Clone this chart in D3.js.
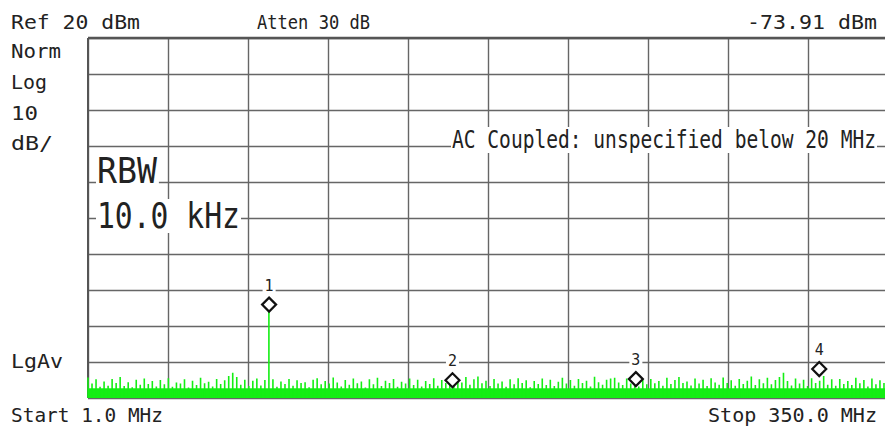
<!DOCTYPE html>
<html>
<head>
<meta charset="utf-8">
<script src="https://cdn.jsdelivr.net/npm/d3@7"></script>
<style>
  body { margin: 0; background: #fff; }
  text { font-family: "DejaVu Sans Mono", monospace; fill: #222; }
</style>
</head>
<body>
<div id="chart"></div>
<script>
// sweep settings
var startMHz = 1.0, stopMHz = 350.0;
var refDb = 20, bottomDb = -80;
var xDivs = 11, yTicks = [-80, -70, -60, -50, -40, -30, -20, -10, 0, 10, 20];

// trace (peak per bin, dBm), 200 bins across the sweep
var trace = [
  -74.3, -76.0, -74.8, -76.9, -75.4, -76.6, -74.7, -75.8, -74.2, -76.7,
  -75.6, -77.0, -74.9, -76.3, -74.6, -76.1, -75.3, -76.8, -75.0, -76.2,
  -74.5, -76.9, -75.7, -76.0, -74.8, -77.1, -75.2, -76.4, -74.4, -75.9,
  -75.5, -76.8, -74.7, -76.1, -75.1, -73.9, -73.0, -74.2, -76.3, -74.9,
  -76.7, -75.2, -74.6, -76.5, -75.0, -56.0, -74.8, -76.9, -75.4, -76.1,
  -74.7, -76.6, -75.1, -75.8, -75.6, -77.0, -74.9, -74.5, -76.2, -75.3,
  -76.0, -74.3, -75.7, -76.8, -75.0, -76.3, -74.6, -75.9, -75.4, -77.1,
  -74.8, -76.2, -74.4, -76.7, -75.2, -75.8, -74.7, -76.9, -75.5, -76.0,
  -74.6, -76.4, -74.9, -76.8, -75.3, -76.1, -74.5, -76.6, -75.0, -75.8,
  -74.3, -76.5, -75.1, -75.7, -74.2, -76.3, -74.8, -74.0, -75.9, -75.2,
  -76.7, -74.7, -76.0, -75.4, -76.9, -74.8, -76.2, -74.5, -75.8, -75.1,
  -77.0, -75.3, -76.1, -74.6, -76.4, -74.9, -76.7, -75.5, -74.4, -76.0,
  -75.0, -76.6, -74.7, -75.8, -75.2, -76.8, -74.1, -75.6, -76.3, -74.9,
  -74.6, -74.4, -75.7, -76.4, -74.6, -76.0, -75.1, -76.8, -74.8, -76.2,
  -74.7, -75.9, -75.3, -76.6, -74.4, -76.1, -75.0, -74.2, -75.8, -75.4,
  -76.5, -74.6, -76.0, -74.9, -76.7, -74.5, -75.7, -76.3, -74.3, -75.8,
  -75.1, -76.6, -74.7, -76.1, -75.2, -74.0, -76.4, -74.8, -75.9, -74.4,
  -76.2, -75.0, -74.2, -73.0, -75.3, -76.5, -74.6, -76.0, -74.9, -76.7,
  -74.5, -75.8, -75.2, -73.9, -76.3, -74.8, -76.6, -74.7, -76.1, -75.3,
  -76.4, -74.4, -75.9, -75.0, -76.8, -74.6, -76.2, -75.1, -75.8, -74.7
];
var floorDb = -77.3;

// markers
var markerIds = ["1", "2", "3", "4"];
var markerMHz = [80, 160, 240, 320];
var markerDb = [-56.0, -77.0, -76.7, -73.91];

var width = 885, height = 432;
var plot = {left: 88, top: 38, right: 888, bottom: 398};

var svg = d3.select("#chart")
    .append("svg")
    .attr("width", width)
    .attr("height", height);

var x = d3.scaleLinear()
    .domain([startMHz, stopMHz])
    .range([plot.left, plot.right]);
var y = d3.scaleLinear()
    .domain([bottomDb, refDb])
    .range([plot.bottom, plot.top]);
var xi = d3.scaleLinear()
    .domain([0, trace.length - 1])
    .range([plot.left, plot.right]);

// grid
var step = (stopMHz - startMHz) / (xDivs - 1);
var xTicks = d3.range(xDivs).map(function(i) { return startMHz + i * step; });

var gx = svg.append("g")
    .attr("transform", "translate(0," + plot.bottom + ")")
    .call(d3.axisBottom(x).tickValues(xTicks).tickSize(-(plot.bottom - plot.top)).tickFormat(""));
var gy = svg.append("g")
    .attr("transform", "translate(" + plot.left + ",0)")
    .call(d3.axisLeft(y).tickValues(yTicks).tickSize(-(plot.right - plot.left)).tickFormat(""));
[gx, gy].forEach(function(g) {
    g.select(".domain").remove();
    g.selectAll(".tick line").attr("stroke", "#666").attr("stroke-width", 1.4);
});
svg.append("line")
    .attr("x1", plot.left).attr("x2", plot.right)
    .attr("y1", plot.top).attr("y2", plot.top)
    .attr("stroke", "#555").attr("stroke-width", 2.6);
svg.append("line")
    .attr("x1", plot.left).attr("x2", plot.left)
    .attr("y1", plot.top).attr("y2", plot.bottom)
    .attr("stroke", "#555").attr("stroke-width", 2);

// text squeezed to the width it has on the screen
function label(str, tx, ty, w, size, anchor) {
    return svg.append("text")
        .attr("x", tx).attr("y", ty)
        .attr("font-size", size || 20)
        .attr("text-anchor", anchor || "start")
        .attr("textLength", w)
        .attr("lengthAdjust", "spacingAndGlyphs")
        .text(str);
}
function boxed(t, pad) {
    let b = t.node().getBBox();
    svg.insert("rect", function() { return t.node(); })
        .attr("x", b.x - pad[0]).attr("y", b.y - pad[1])
        .attr("width", b.width + 2 * pad[0]).attr("height", b.height + 2 * pad[1])
        .attr("fill", "#fff");
}

// boxed annotations over the grid
boxed(label("AC Coupled: unspecified below 20 MHz", 452, 148, 424, 24), [1, -1]);
boxed(label("RBW", 97, 183, 60, 35), [1, -3]);
boxed(label("10.0 kHz", 97, 228, 143, 35), [1, -3]);

// header / side labels
label("Ref 20 dBm", 11, 29, 129);
label("Atten 30 dB", 257, 29, 113);
label("-73.91 dBm", 877, 29, 130, 20, "end");
label("Norm", 11, 58, 50);
label("Log", 11, 89, 36);
label("10", 11, 120, 27);
label("dB/", 11, 150, 42);
label("LgAv", 11, 368, 52);
label("Start 1.0 MHz", 11, 422, 152);
label("Stop 350.0 MHz", 877, 422, 169, 20, "end");

// trace: floor band plus one spike per bin
var green = "#14ee14";
svg.append("rect")
    .attr("x", plot.left).attr("width", plot.right - plot.left)
    .attr("y", y(floorDb)).attr("height", y(bottomDb) - y(floorDb))
    .attr("fill", green);
svg.append("path")
    .attr("fill", "none")
    .attr("stroke", green)
    .attr("stroke-width", 1.6)
    .attr("d", trace.map(function(d, i) {
        return "M" + xi(i) + "," + y(bottomDb) + "V" + y(d);
    }).join(""));

// markers
var mk = svg.selectAll(".marker")
    .data(markerIds)
    .enter().append("g")
    .attr("class", "marker")
    .attr("transform", function(d, i) {
        return "translate(" + x(markerMHz[i]) + "," + (y(markerDb[i]) - 7) + ")";
    });
mk.append("path")
    .attr("d", "M0,-7L7,0L0,7L-7,0Z")
    .attr("fill", "#fff")
    .attr("stroke", "#111")
    .attr("stroke-width", 2.2);
mk.each(function(d) {
    let g = d3.select(this);
    let t = g.append("text")
        .attr("y", -14)
        .attr("text-anchor", "middle")
        .attr("font-size", 15)
        .text(d);
    let b = t.node().getBBox();
    g.insert("rect", "text")
        .attr("x", b.x - 2).attr("y", b.y + 2)
        .attr("width", b.width + 4).attr("height", b.height - 3)
        .attr("fill", "#fff");
});
</script>
</body>
</html>
